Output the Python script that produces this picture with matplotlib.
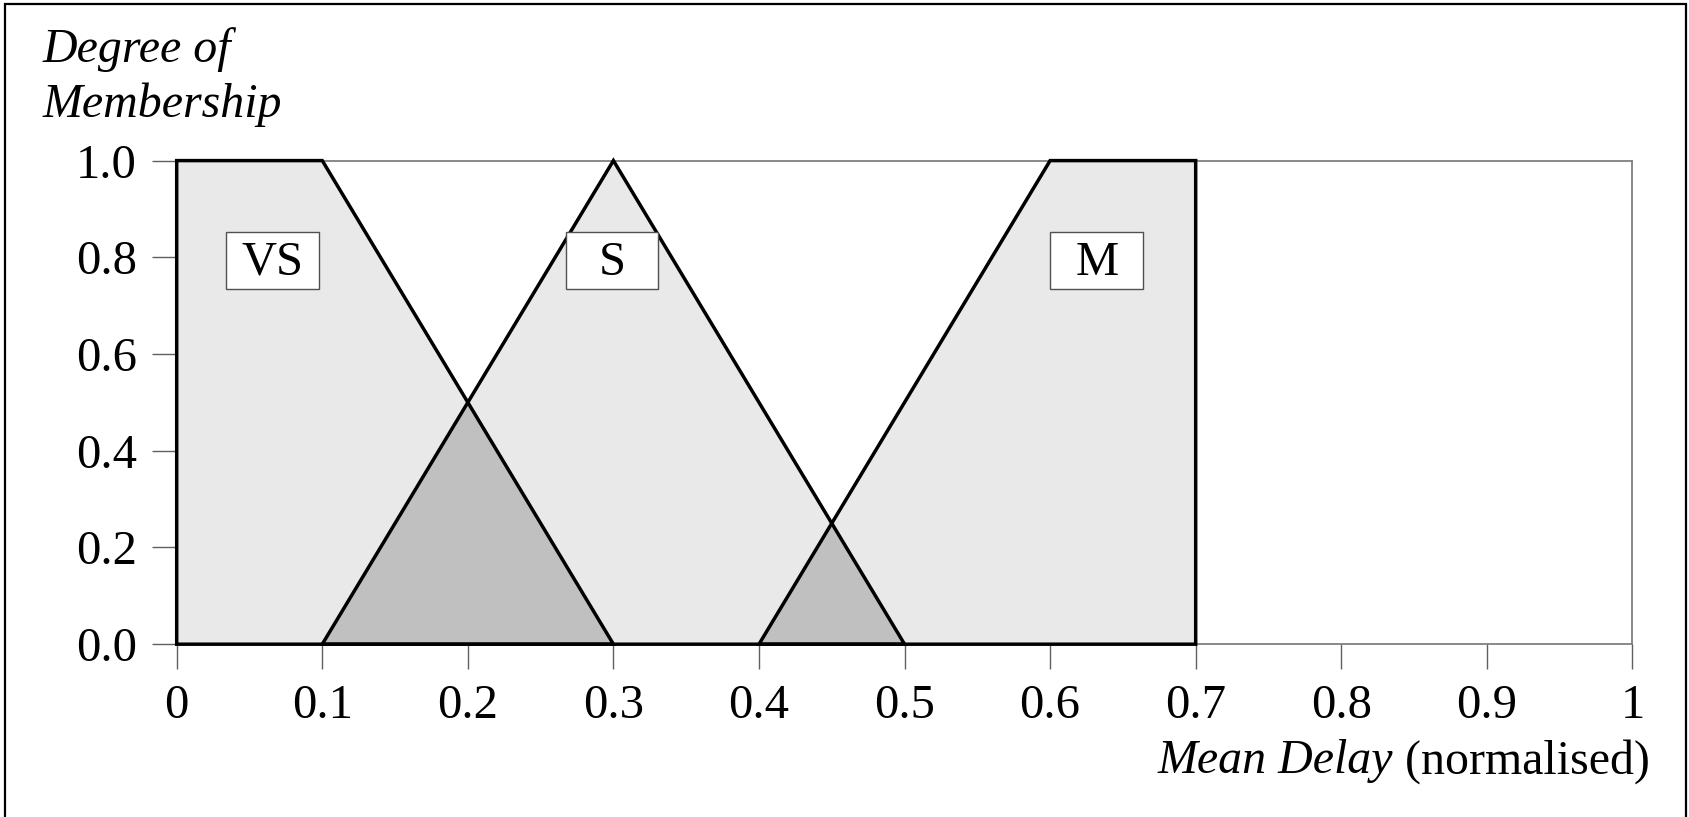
import numpy as np
import matplotlib
matplotlib.use("Agg")
import matplotlib.pyplot as plt
from matplotlib.patches import Polygon, Rectangle

plt.rcParams['font.family'] = ['Liberation Serif', 'DejaVu Serif']

# ---- data ----
vs_x = [0.0, 0.0, 0.1, 0.3]
vs_y = [0.0, 1.0, 1.0, 0.0]
s_x = [0.1, 0.3, 0.5]
s_y = [0.0, 1.0, 0.0]
m_x = [0.4, 0.6, 0.7, 0.7]
m_y = [0.0, 1.0, 1.0, 0.0]
set_labels = ['VS', 'S', 'M']
label_x = [0.066, 0.299, 0.632]
label_y = [0.793, 0.793, 0.793]
xticks = [0.0, 0.1, 0.2, 0.3, 0.4, 0.5, 0.6, 0.7, 0.8, 0.9, 1.0]
xticklabels = ['0', '0.1', '0.2', '0.3', '0.4', '0.5', '0.6', '0.7', '0.8', '0.9', '1']
yticks = [0.0, 0.2, 0.4, 0.6, 0.8, 1.0]
yticklabels = ['0.0', '0.2', '0.4', '0.6', '0.8', '1.0']

W, H = 1689, 817
DPI = 100
FS = 35
FST = 34.5
LIGHT = '#e9e9e9'
DARK = '#c0c0c0'
AXGRAY = '#808080'

fig = plt.figure(figsize=(W / DPI, H / DPI), dpi=DPI)
ax_l, ax_r, ax_t, ax_b = 176.7, 1632.4, 160.6, 644.2
ax = fig.add_axes([ax_l / W, 1 - ax_b / H, (ax_r - ax_l) / W, (ax_b - ax_t) / H])
ax.set_xlim(0, 1)
ax.set_ylim(0, 1)

# fills
for xs_, ys_ in [(vs_x, vs_y), (s_x, s_y), (m_x, m_y)]:
    ax.add_patch(Polygon(list(zip(xs_, ys_)), closed=True, facecolor=LIGHT,
                         edgecolor='none', zorder=1))

# overlaps (min of membership functions)
grid = np.linspace(0, 1, 4001)
mu_vs = np.interp(grid, vs_x, vs_y)
mu_s = np.interp(grid, s_x, s_y)
mu_m = np.interp(grid, m_x, m_y, right=0.0)
ov1 = np.minimum(mu_vs, mu_s)
ov2 = np.minimum(mu_s, mu_m)
ov = np.maximum(ov1, ov2)
ax.fill_between(grid, 0, ov, where=ov > 0, facecolor=DARK, edgecolor='none', zorder=2)

# outlines
lw = 2.5
for xs_, ys_ in [(vs_x, vs_y), (s_x, s_y), (m_x, m_y)]:
    ax.add_patch(Polygon(list(zip(xs_, ys_)), closed=True, facecolor='none',
                         edgecolor='black', linewidth=lw, joinstyle='miter',
                         zorder=4, clip_on=False))

# label boxes
bw = 92.6 / (ax_r - ax_l)
bh = 57.3 / (ax_b - ax_t)
for lab, lx, ly in zip(set_labels, label_x, label_y):
    ax.add_patch(Rectangle((lx - bw / 2, ly - bh / 2), bw, bh, facecolor='white',
                           edgecolor='#505050', linewidth=1.0, zorder=5))
    ax.text(lx, ly - 0.004, lab, ha='center', va='center', fontsize=FS, zorder=6)

# spines & ticks
for side in ['top', 'right', 'bottom']:
    ax.spines[side].set_color(AXGRAY)
    ax.spines[side].set_linewidth(1.3)
    ax.spines[side].set_zorder(3)
ax.spines['left'].set_visible(False)
ax.set_xticks(xticks)
ax.set_xticklabels(xticklabels)
ax.set_yticks(yticks)
ax.set_yticklabels(yticklabels)
ax.tick_params(axis='both', direction='out', length=18, width=1.0, color='#606060',
               labelsize=FS)
ax.tick_params(axis='x', pad=11)
ax.tick_params(axis='y', pad=10.5)
ax.set_facecolor('white')

# axis titles
fig.text(43 / W, 1 - 61.7 / H, 'Degree of', fontsize=FST, style='italic',
         ha='left', va='baseline')
fig.text(43 / W, 1 - 116.7 / H, 'Membership', fontsize=FST, style='italic',
         ha='left', va='baseline')

fig.canvas.draw()
r = fig.canvas.get_renderer()
t2 = fig.text(1650 / W, 1 - 773.3 / H, ' (normalised)', fontsize=FST,
              ha='right', va='baseline')
bb = t2.get_window_extent(renderer=r)
fig.text(bb.x0 / W, 1 - 773.3 / H, 'Mean Delay', fontsize=FST, style='italic',
         ha='right', va='baseline')

# outer frame
fig.add_artist(Rectangle((5 / W, -0.02), (1686 - 5) / W, 1.02 - 4 / H,
                         transform=fig.transFigure, facecolor='none',
                         edgecolor='black', linewidth=1.6))

fig.savefig('out.png', dpi=DPI)
